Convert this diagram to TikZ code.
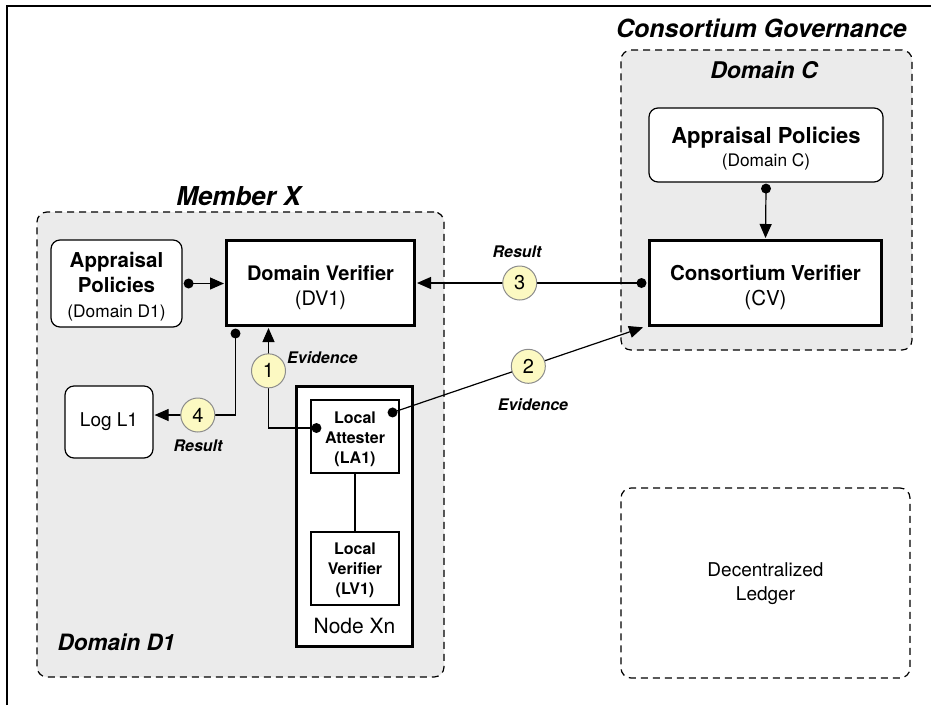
\documentclass[tikz,border=0pt]{standalone}
\usepackage{fontspec}
\setmainfont{TeX Gyre Heros}
\usetikzlibrary{arrows.meta,calc}
\definecolor{dom}{HTML}{EBEBEB}
\definecolor{numfill}{HTML}{FCF9C2}
\definecolor{numdraw}{HTML}{8C8C8C}
\newcommand\topstrut[1]{\rule{0pt}{#1}}
\begin{document}
\begin{tikzpicture}[x=1pt,y=-1pt,
  domainbox/.style={draw, dash pattern=on 7pt off 5pt, line width=1.2pt, rounded corners=10pt, inner sep=0pt},
  rbox/.style={draw, line width=1.2pt, rounded corners=9pt, fill=white, align=center, inner sep=0pt},
  thickbox/.style={draw, line width=3pt, fill=white, align=center, inner sep=0pt},
  thinbox/.style={draw, line width=1.1pt, fill=white, align=center, inner sep=0pt},
  numc/.style={circle, draw=numdraw, line width=1pt, fill=numfill, minimum size=34pt, inner sep=0pt, font=\fontsize{20}{24}\selectfont},
  conn/.style={line width=1.2pt},
  arr/.style={conn, -{Triangle[length=14pt,width=12pt]}, shorten >=1pt},
  dotc/.style={circle, fill=black, minimum size=10pt, inner sep=0pt},
  title/.style={font=\fontsize{25}{30}\selectfont\bfseries\itshape, anchor=base, inner sep=0pt},
  lab/.style={font=\fontsize{16}{19}\selectfont\bfseries\itshape, anchor=base, inner sep=0pt},
]
\useasboundingbox (0,0) rectangle (931,705);
\draw[line width=1.5pt] (7,705) -- (7,6) -- (931,6);

% domain areas
\node[domainbox, fill=dom, minimum width=407pt, minimum height=465pt] (memberx) at (240.5,444.5) {};
\node[domainbox, fill=dom, minimum width=291pt, minimum height=300pt] (domc) at (766.5,200) {};
\node[domainbox, minimum width=289pt, minimum height=190pt, align=center,
      font=\fontsize{19}{24}\selectfont] (ledger) at (765.5,583) {Decentralized\topstrut{16pt}\\Ledger};

% titles
\node[title] (tcg) at (761.5,37) {Consortium Governance};
\node[title, font=\fontsize{23}{28}\selectfont\bfseries\itshape] (tdc) at (764,78) {Domain C};
\node[title, font=\fontsize{26}{30}\selectfont\bfseries\itshape] (tmx) at (238.5,205) {Member X};
\node[title, font=\fontsize{22.5}{28}\selectfont\bfseries\itshape] (tdd) at (116.5,650) {Domain D1};

% boxes
\node[rbox, minimum width=131pt, minimum height=87pt, font=\fontsize{20.5}{25}\selectfont] (apd) at (116.5,283.5)
  {{\bfseries Appraisal}\topstrut{22pt}\\{\bfseries Policies}\\{\fontsize{17.3}{21}\selectfont (Domain D1)}};
\node[thickbox, minimum width=188pt, minimum height=85pt, font=\fontsize{20}{25}\selectfont] (dv) at (320.5,283)
  {{\bfseries Domain Verifier}\topstrut{24pt}\\(DV1)};
\node[rbox, minimum width=234pt, minimum height=74pt, font=\fontsize{22}{23}\selectfont] (apc) at (766,145)
  {{\bfseries Appraisal Policies}\topstrut{22.7pt}\\{\fontsize{17.3}{23}\selectfont (Domain C)}};
\node[thickbox, minimum width=232pt, minimum height=85pt, font=\fontsize{20.5}{25}\selectfont] (cv) at (765.5,283)
  {{\bfseries Consortium Verifier}\topstrut{24.5pt}\\(CV)};
\node[rbox, minimum width=88pt, minimum height=72pt, font=\fontsize{19}{23}\selectfont] (log) at (109,422) {Log L1};
\node[thickbox, minimum width=116pt, minimum height=260pt] (nx) at (354.5,516.5) {};
\node[anchor=base, inner sep=0pt, font=\fontsize{21}{25}\selectfont] (nxl) at (354.5,633) {Node Xn};
\node[thinbox, minimum width=88pt, minimum height=73pt, font=\fontsize{16}{20}\selectfont\bfseries] (la) at (355,436.5)
  {Local\topstrut{17.7pt}\\Attester\\(LA1)};
\node[thinbox, minimum width=88pt, minimum height=73pt, font=\fontsize{16}{20}\selectfont\bfseries] (lv) at (355,568.5)
  {Local\topstrut{15.7pt}\\Verifier\\(LV1)};

% dots
\node[dotc] (dapd) at ([xshift=6pt]apd.east) {};
\node[dotc] (ddv) at ([xshift=10.5pt,yshift=-6.5pt]dv.south west) {};
\node[dotc] (dapc) at ([yshift=-6pt]apc.south) {};
\node[dotc] (dcv) at ([xshift=-6.5pt]cv.west) {};
\node[dotc] (dla) at ([xshift=6pt,yshift=8.5pt]la.west) {};
\node[dotc] (dlb) at ([xshift=-7pt,yshift=-13pt]la.north east) {};

% connectors
\draw[conn] (la.south) -- (lv.north);
\draw[arr] (dapd.center) -- (dv.west |- dapd);
\draw[arr] (dapc.center) -- (cv.north);
\draw[arr] (dcv.center) -- (dv.east |- dcv) node[numc, pos=0.54] (c3) {3};
\draw[arr] (dla.center) -| ([xshift=43.5pt]dv.south west) node[numc, pos=0.783] (c1) {1};
\draw[arr] (dlb.center) -- ([xshift=-4pt]cv.south west) node[numc, pos=0.54] (c2) {2};
\draw[arr] (ddv.center) |- ([yshift=7pt]log.east) node[numc, pos=0.73] (c4) {4};

% labels
\node[lab] (r3) at (517,257) {Result};
\node[lab, anchor=base west] (e1) at (287,363) {Evidence};
\node[lab] (e2) at (533,410) {Evidence};
\node[lab] (r4) at (198,451) {Result};
\end{tikzpicture}
\end{document}
